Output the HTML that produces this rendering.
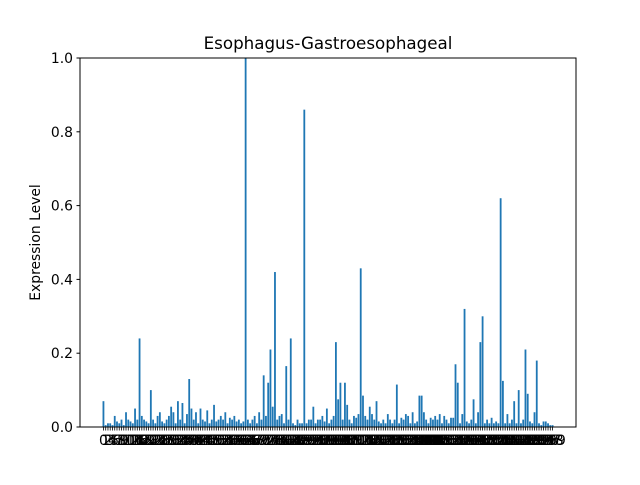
<!DOCTYPE html>
<html><head><meta charset="utf-8"><style>
body{margin:0;background:#fff}
svg text{font-family:"DejaVu Sans","Liberation Sans",sans-serif}
</style></head><body>
<svg id="chart" width="640" height="480" xmlns="http://www.w3.org/2000/svg">
<rect width="640" height="480" fill="#fff"/>
<text x="328" y="49" font-size="16.7" text-anchor="middle">Esophagus-Gastroesophageal</text>
<text transform="translate(40,242.5) rotate(-90)" font-size="13.9" text-anchor="middle">Expression Level</text>
<g id="bars"></g>
<g id="yticks"></g>
<g id="xticks"></g>
<rect x="80" y="58" width="496" height="369" fill="none" stroke="#000" stroke-width="1"/>
</svg>
<script>
const values = [
0.07,0.005,0.01,0.01,0.005,0.03,0.015,0.01,0.02,0.005,0.04,0.02,0.015,0.01,0.05,0.02,0.24,0.03,0.02,0.015,0.01,
0.10,0.02,0.01,0.03,0.04,0.015,0.01,0.02,0.03,0.055,0.04,0.01,0.07,0.02,0.065,0.01,0.035,0.13,0.05,0.02,
0.04,0.01,0.05,0.02,0.015,0.045,0.01,0.02,0.06,0.015,0.02,0.03,0.02,0.04,0.01,0.025,0.02,0.03,0.015,0.02,0.01,
0.015,1.0,0.02,0.01,0.02,0.03,0.01,0.04,0.02,0.14,0.03,0.12,0.21,0.055,0.42,0.02,0.03,0.035,0.01,0.165,
0.02,0.24,0.01,0.005,0.02,0.01,0.01,0.86,0.01,0.02,0.02,0.055,0.01,0.02,0.02,0.03,0.015,0.05,0.01,0.02,0.03,
0.23,0.075,0.12,0.02,0.12,0.06,0.02,0.01,0.03,0.025,0.035,0.43,0.085,0.03,0.02,0.055,0.035,0.02,0.07,0.015,
0.01,0.02,0.01,0.035,0.02,0.01,0.02,0.115,0.01,0.025,0.02,0.035,0.03,0.01,0.04,0.01,0.015,0.085,0.085,0.04,
0.02,0.01,0.025,0.02,0.03,0.02,0.035,0.01,0.03,0.02,0.01,0.025,0.025,0.17,0.12,0.01,0.035,0.32,0.015,0.01,
0.02,0.075,0.01,0.04,0.23,0.30,0.01,0.02,0.01,0.025,0.01,0.015,0.01,0.62,0.125,0.01,0.035,0.01,0.02,0.07,
0.01,0.10,0.01,0.02,0.21,0.09,0.015,0.01,0.04,0.18,0.01,0.005,0.015,0.015,0.01,0.005,0.005
];
const categories = values.map((v,i)=>String(i));
const yTicks = [0,0.2,0.4,0.6,0.8,1.0];
const yTickLabels = ["0.0","0.2","0.4","0.6","0.8","1.0"];

const NS="http://www.w3.org/2000/svg";
const L=80,R=576,T=58,B=427;
const n=values.length, span=n-1+0.8;
const x0=-0.4-0.05*span, x1=n-1+0.4+0.05*span;
const xs=v=>L+(v-x0)/(x1-x0)*(R-L);
const ys=v=>B-(v-0)/(1-0)*(B-T);
const bw=(xs(0.8)-xs(0));
const gb=document.getElementById('bars');
values.forEach((v,i)=>{
  const r=document.createElementNS(NS,'rect');
  r.setAttribute('x',xs(i)-bw/2);
  r.setAttribute('width',bw);
  r.setAttribute('y',ys(v));
  r.setAttribute('height',B-ys(v));
  r.setAttribute('fill','#1f77b4');
  
  
  gb.appendChild(r);
});
const gy=document.getElementById('yticks');
yTicks.forEach((t,i)=>{
  const l=document.createElementNS(NS,'line');
  l.setAttribute('x1',L-3.5);l.setAttribute('x2',L);
  l.setAttribute('y1',ys(t));l.setAttribute('y2',ys(t));
  l.setAttribute('stroke','#000');
  
  
  gy.appendChild(l);
  const tx=document.createElementNS(NS,'text');
  tx.setAttribute('x',L-7);tx.setAttribute('y',ys(t)+5);
  tx.setAttribute('font-size','13.9');tx.setAttribute('text-anchor','end');
  tx.textContent=yTickLabels[i];
  
  
  gy.appendChild(tx);
});
const gx=document.getElementById('xticks');
categories.forEach((c,i)=>{
  const l=document.createElementNS(NS,'line');
  l.setAttribute('x1',xs(i));l.setAttribute('x2',xs(i));
  l.setAttribute('y1',B);l.setAttribute('y2',B+3.5);
  l.setAttribute('stroke','#000');l.setAttribute('stroke-width','0.8');
  
  
  gx.appendChild(l);
  const tx=document.createElementNS(NS,'text');
  tx.setAttribute('x',xs(i));tx.setAttribute('y',B+18);
  tx.setAttribute('font-size','13.9');tx.setAttribute('text-anchor','middle');
  tx.textContent=c;
  
  
  gx.appendChild(tx);
});
</script>
</body></html>
